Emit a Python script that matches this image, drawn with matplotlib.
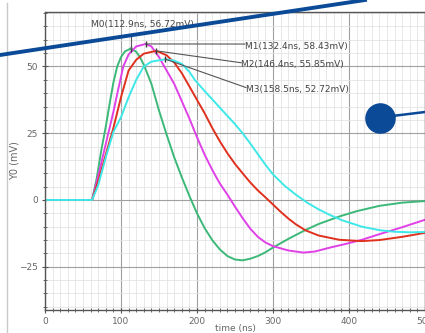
import matplotlib.pyplot as plt
from matplotlib.lines import Line2D
from matplotlib.ticker import MultipleLocator

# time (ns) / Y0 (mV) for the four traces
t_m0 = [0, 62, 68, 74, 80, 85, 90, 95, 100, 105, 112.9, 120, 125, 131, 140, 150, 160, 170, 180,
        190, 200, 210, 220, 230, 240, 250, 260, 270, 280, 290, 300, 320, 343, 360, 387, 410, 440,
        470, 500]
y_m0 = [0, 0, 8, 18.5, 27.5, 36, 44, 50, 53.5, 55.6, 56.72, 55.5, 53.5, 50, 43.5, 33.5, 24.5, 16,
        8.5, 1.5, -5, -10.5, -15, -18.5, -21, -22.3, -22.6, -22, -21, -19.6, -17.8, -14.6, -11.2,
        -9, -6.2, -4.2, -2.2, -1.0, -0.4]

t_m1 = [0, 62, 70, 80, 90, 96, 103, 110, 120, 132.4, 140, 150, 160, 170, 180, 190, 200, 210, 220,
        230, 240, 250, 260, 270, 280, 290, 300, 320, 340, 355, 374, 395, 417, 440, 470, 500]
y_m1 = [0, 0, 9, 21, 33, 41, 50, 54.5, 57.5, 58.43, 57.5, 53.5, 48.5, 43.5, 37, 30.5, 23.5, 17,
        11.3, 6.2, 2, -2.5, -6.8, -10.7, -13.8, -15.9, -17.3, -18.9, -19.7, -19.3, -17.9, -16.5,
        -14.9, -12.8, -10.2, -7.4]

t_m2 = [0, 62, 70, 80, 90, 100, 110, 120, 130, 146.4, 160, 170, 180, 190, 200, 210, 220, 230, 240,
        250, 260, 270, 280, 290, 300, 310, 320, 330, 343, 360, 387, 417, 440, 470, 500]
y_m2 = [0, 0, 7, 17, 27, 38.5, 48.5, 52.5, 54.8, 55.85, 54.2, 51.5, 47.5, 42.5, 37.5, 32.5, 27,
        22, 17.5, 13.5, 10, 6.6, 3.6, 1.0, -1.7, -4.4, -6.9, -9.1, -11.4, -13.3, -14.9, -15.4, -15,
        -13.8, -12.3]

t_m3 = [0, 62, 70, 81, 90, 100, 110, 120, 130, 140, 158.5, 170, 180, 190, 197, 210, 220, 230, 240,
        250, 260, 270, 280, 290, 300, 315, 330, 345, 360, 374, 390, 417, 440, 460, 480, 500]
y_m3 = [0, 0, 5.5, 17, 25.5, 31, 38.5, 45, 50, 51.8, 52.72, 52.2, 51, 48, 45, 40.8, 37.7, 34.6,
        31.5, 28.4, 25, 21.2, 17.2, 13.2, 9.6, 5.4, 2, -1, -3.5, -5.5, -7.5, -10, -11.3, -11.9,
        -12.1, -12]

colors = ["#3cb878", "#e040e8", "#e0301e", "#3ee8e8"]

# marker readouts
mk_names = ["M0", "M1", "M2", "M3"]
mk_t = [112.9, 132.4, 146.4, 158.5]
mk_y = [56.72, 58.43, 55.85, 52.72]

fig = plt.figure(figsize=(4.25, 3.33), dpi=100)
ax = fig.add_axes([45 / 425, 1 - 310 / 333, 1 - 45 / 425, (310 - 12) / 333])

ax.set_xlim(0, 500)
ax.set_ylim(-41.2, 70.4)
ax.xaxis.set_major_locator(MultipleLocator(100))
ax.xaxis.set_minor_locator(MultipleLocator(10))
ax.yaxis.set_major_locator(MultipleLocator(25))
ax.yaxis.set_minor_locator(MultipleLocator(5))
ax.grid(which="major", color="#a0a0a0", lw=0.8)
ax.grid(which="minor", color="#e4e4e4", lw=0.6)
ax.set_axisbelow(True)
for s in ax.spines.values():
    s.set_color("#555555")
    s.set_linewidth(1.0)
ax.tick_params(which="both", direction="inout", colors="#555555", labelsize=6.5,
               labelcolor="#666666")
ax.tick_params(which="major", length=4, pad=3)
ax.tick_params(which="minor", length=2.5)

for tt, yy, c in zip([t_m0, t_m1, t_m2, t_m3], [y_m0, y_m1, y_m2, y_m3], colors):
    ax.plot(tt, yy, color=c, lw=1.4)

ax.set_xlabel("time (ns)", fontsize=6.5, color="#666666")
ax.set_ylabel("Y0 (mV)", fontsize=7, color="#666666")
ax.xaxis.set_label_coords(0.5, -0.047)
ax.yaxis.set_label_coords(-25 / 380, 0.5)

# marker labels and leaders (label anchors in data units)
lab_t = [128, 263, 258, 264.5]
lab_y = [65.6, 57.6, 50.6, 41.3]
for i in range(4):
    txt = "%s(%.1fns, %.2fmV)" % (mk_names[i], mk_t[i], mk_y[i])
    ax.plot([mk_t[i]], [mk_y[i]], marker="|", ms=4, color="#333333", mew=1)
    if i == 0:
        ax.plot([mk_t[i], mk_t[i]], [mk_y[i], 61.8], color="#555555", lw=0.8)
        ax.text(lab_t[i], lab_y[i], txt, fontsize=6.5, color="#444444", ha="center", va="center")
    else:
        ax.plot([mk_t[i], lab_t[i]], [mk_y[i], lab_y[i] + 0.8], color="#555555", lw=0.8)
        ax.text(lab_t[i], lab_y[i], txt, fontsize=6.5, color="#444444", ha="left", va="center")

# screenshot decorations
blue = "#0b4a96"
fig.add_artist(Line2D([7 / 425, 7 / 425], [0, 1 - 3 / 333], color="#c8c8c8", lw=1))
fig.add_artist(Line2D([0, 365 / 425], [1 - 55 / 333, 1], color=blue, lw=2.8, zorder=10))
fig.add_artist(Line2D([380 / 425, 1], [1 - 117.5 / 333, 1 - 112 / 333], color=blue, lw=1.8, zorder=10))
fig.add_artist(Line2D([380 / 425], [1 - 117.5 / 333], marker="o", ms=21, color=blue, zorder=11))

fig.savefig("out.png", dpi=100)
